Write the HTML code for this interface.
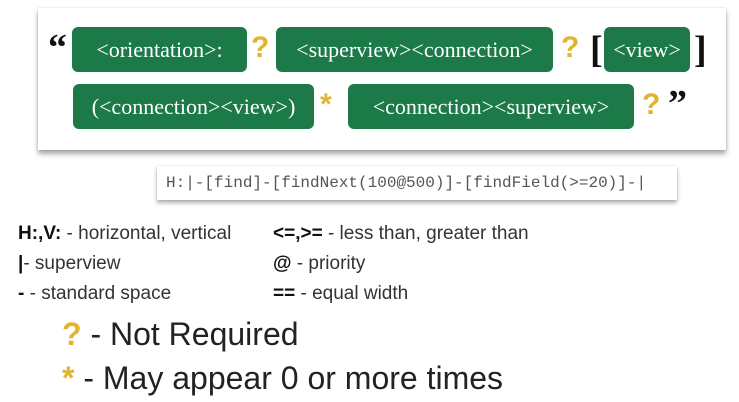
<!DOCTYPE html>
<html><head><style>
body{margin:0;width:739px;height:402px;background:#fff;position:relative;overflow:hidden;font-family:"Liberation Sans",sans-serif}
.card{position:absolute;left:38px;top:8px;width:688px;height:142px;background:#fff;box-shadow:0 4px 5px rgba(0,0,0,.35),0 0 2px rgba(0,0,0,.15)}
.g{position:absolute;background:#1b7a48;border-radius:6px;color:#fff;font-family:"Liberation Serif",serif;font-size:22px;text-align:center;line-height:45px;height:45px}
.y{position:absolute;color:#e1b430;font-size:30px;font-weight:bold}
.k{position:absolute;color:#111;font-size:38px;font-weight:bold;font-family:"Liberation Serif",serif}
.code{position:absolute;left:157px;top:166px;width:520px;height:34px;background:#fff;box-shadow:0 3px 4px rgba(0,0,0,.3),0 0 2px rgba(0,0,0,.15);font-family:"Liberation Mono",monospace;font-size:16px;color:#555;line-height:34px;padding-left:9px;box-sizing:border-box;white-space:nowrap}
.l{position:absolute;font-size:19px;color:#333;white-space:nowrap}
.l b{color:#111}
.big{position:absolute;font-size:32px;color:#222;white-space:nowrap;left:62px}
.big b{color:#e1b430}
</style></head><body>
<div class="card"></div>
<div class="k" style="left:48px;top:26px">“</div>
<div class="g" style="left:72px;top:27px;width:175px">&lt;orientation&gt;:</div>
<div class="y" style="left:251px;top:31px">?</div>
<div class="g" style="left:276px;top:27px;width:277px">&lt;superview&gt;&lt;connection&gt;</div>
<div class="y" style="left:561px;top:31px">?</div>
<div class="k" style="left:590px;top:28px">[</div>
<div class="g" style="left:604px;top:27px;width:86px">&lt;view&gt;</div>
<div class="k" style="left:694px;top:28px">]</div>
<div class="g" style="left:73px;top:84px;width:241px">(&lt;connection&gt;&lt;view&gt;)</div>
<div class="y" style="left:320px;top:88px">*</div>
<div class="g" style="left:348px;top:84px;width:286px">&lt;connection&gt;&lt;superview&gt;</div>
<div class="y" style="left:642px;top:88px">?</div>
<div class="k" style="left:668px;top:82px">”</div>
<div class="code">H:|-[find]-[findNext(100@500)]-[findField(&gt;=20)]-|</div>
<div class="l" style="left:18px;top:223px"><b>H:,V:</b> - horizontal, vertical</div>
<div class="l" style="left:18px;top:253px"><b>|</b>- superview</div>
<div class="l" style="left:18px;top:283px"><b>-</b> - standard space</div>
<div class="l" style="left:273px;top:223px"><b>&lt;=,&gt;=</b> - less than, greater than</div>
<div class="l" style="left:273px;top:253px"><b>@</b> - priority</div>
<div class="l" style="left:273px;top:283px"><b>==</b> - equal width</div>
<div class="big" style="top:316px"><b>?</b> - Not Required</div>
<div class="big" style="top:360px"><b>*</b> - May appear 0 or more times</div>
</body></html>
